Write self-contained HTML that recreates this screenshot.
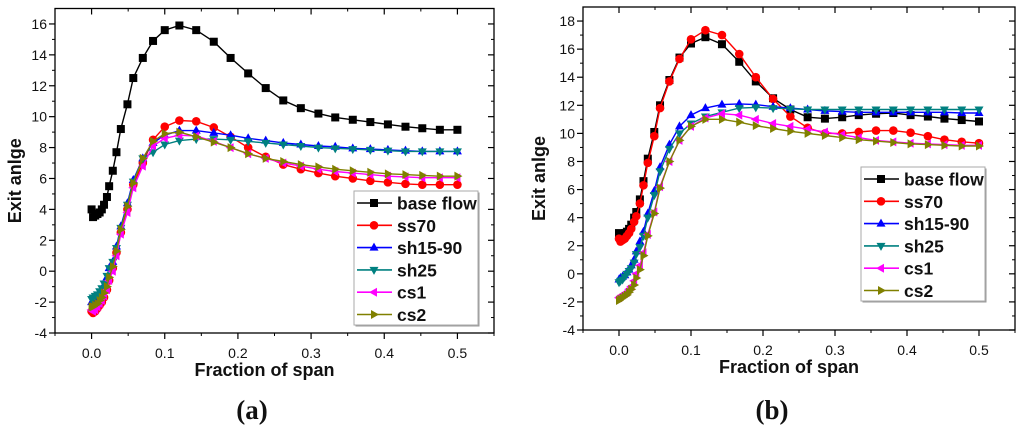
<!DOCTYPE html>
<html><head><meta charset="utf-8">
<style>
html,body{margin:0;padding:0;background:#fff;width:1024px;height:429px;overflow:hidden}
svg{display:block}
text{font-family:"Liberation Sans",sans-serif;fill:#111}
</style></head>
<body>
<svg id="fig" width="1024" height="429" viewBox="0 0 1024 429"></svg>
<script>
const xSpan = [0,0.002,0.005,0.008,0.011,0.014,0.017,0.021,0.024,0.029,0.034,0.040,0.049,0.057,0.070,0.084,0.100,0.120,0.143,0.167,0.190,0.214,0.238,0.262,0.286,0.310,0.333,0.357,0.381,0.405,0.429,0.452,0.476,0.500];
const seriesNames = ["base flow","ss70","sh15-90","sh25","cs1","cs2"];
const aBase = [4.0,3.5,3.6,3.7,3.8,4.0,4.3,4.8,5.5,6.5,7.7,9.2,10.8,12.5,13.8,14.9,15.6,15.9,15.6,14.85,13.8,12.8,11.85,11.05,10.55,10.2,9.95,9.8,9.65,9.5,9.35,9.25,9.15,9.15];
const aSs70 = [-2.6,-2.7,-2.6,-2.4,-2.2,-2.0,-1.7,-1.2,-0.6,0.2,1.2,2.5,4.0,5.6,7.0,8.5,9.35,9.75,9.7,9.3,8.7,8.0,7.4,6.9,6.6,6.35,6.15,6.0,5.85,5.75,5.65,5.6,5.6,5.6];
const aSh1590 = [-2.0,-1.9,-1.8,-1.6,-1.4,-1.2,-0.9,-0.4,0.2,0.6,1.6,2.9,4.4,5.9,7.3,8.3,8.8,9.1,9.1,8.95,8.8,8.6,8.45,8.3,8.2,8.1,8.05,7.95,7.9,7.85,7.8,7.75,7.75,7.75];
const aSh25 = [-1.8,-1.7,-1.6,-1.5,-1.3,-1.1,-0.8,-0.3,0.2,0.6,1.5,2.8,4.3,5.8,7.3,7.7,8.2,8.45,8.55,8.55,8.5,8.4,8.3,8.2,8.1,8.0,7.95,7.9,7.85,7.8,7.75,7.75,7.75,7.75];
const aCs1 = [-2.5,-2.6,-2.5,-2.3,-2.1,-1.9,-1.6,-1.2,-0.6,0.0,1.0,2.4,3.8,5.4,6.8,8.1,8.6,8.8,8.75,8.4,8.0,7.6,7.3,7.0,6.8,6.6,6.45,6.35,6.25,6.15,6.1,6.05,6.05,6.05];
const aCs2 = [-2.3,-2.3,-2.2,-2.1,-1.9,-1.7,-1.4,-1.0,-0.4,0.3,1.3,2.7,4.2,5.7,7.3,8.4,8.9,9.0,8.7,8.35,8.0,7.6,7.3,7.1,6.9,6.75,6.6,6.5,6.4,6.3,6.25,6.2,6.15,6.15];
const bBase = [2.9,2.8,2.8,2.9,3.0,3.2,3.5,4.0,4.4,5.3,6.6,8.2,10.1,12.0,13.8,15.4,16.4,16.85,16.35,15.1,13.7,12.5,11.7,11.15,11.05,11.15,11.3,11.4,11.45,11.3,11.2,11.05,10.95,10.85];
const bSs70 = [2.5,2.3,2.4,2.5,2.7,2.9,3.2,3.7,4.1,5.0,6.3,7.9,9.8,11.8,13.7,15.3,16.7,17.35,17.0,15.65,14.0,12.45,11.2,10.4,10.0,10.0,10.1,10.2,10.2,10.05,9.8,9.55,9.4,9.3];
const bSh1590 = [-0.4,-0.3,-0.2,-0.1,0.1,0.3,0.6,1.0,1.6,2.3,3.0,4.3,5.9,7.6,9.2,10.5,11.3,11.8,12.05,12.1,12.05,11.9,11.8,11.7,11.6,11.55,11.5,11.5,11.5,11.5,11.5,11.5,11.45,11.45];
const bSh25 = [-0.6,-0.5,-0.4,-0.2,0.0,0.2,0.4,0.8,1.4,1.9,2.7,4.0,5.6,7.3,8.9,10.0,10.7,11.2,11.5,11.8,11.85,11.8,11.75,11.7,11.7,11.7,11.7,11.7,11.7,11.7,11.7,11.7,11.7,11.7];
const bCs1 = [-1.7,-1.6,-1.5,-1.4,-1.3,-1.1,-0.9,-0.5,0.0,0.6,1.5,2.8,4.4,6.2,8.0,9.5,10.5,11.1,11.4,11.3,11.0,10.7,10.5,10.3,10.1,9.9,9.7,9.5,9.4,9.3,9.25,9.2,9.15,9.15];
const bCs2 = [-1.9,-1.8,-1.7,-1.6,-1.5,-1.3,-1.1,-0.8,-0.3,0.3,1.3,2.7,4.3,6.1,8.0,9.5,10.5,11.0,11.0,10.8,10.55,10.35,10.15,10.0,9.85,9.7,9.55,9.45,9.35,9.25,9.2,9.15,9.1,9.1];
const xTicks = [0.0,0.1,0.2,0.3,0.4,0.5];
const xTickLabels = ["0.0","0.1","0.2","0.3","0.4","0.5"];
const aYTicks = [-4,-2,0,2,4,6,8,10,12,14,16];
const bYTicks = [-4,-2,0,2,4,6,8,10,12,14,16,18];

const colors = ["#000000","#ff0000","#0000ff","#008080","#ff00ff","#808000"];
const markers = ["square","circle","up","down","left","right"];
const NS = "http://www.w3.org/2000/svg";
const fig = document.getElementById("fig");
function mk(tag, attrs, parent){
  const e = document.createElementNS(NS, tag);
  for (const k in attrs) e.setAttribute(k, attrs[k]);
  (parent||fig).appendChild(e);
  return e;
}
function marker(kind, cx, cy, col, g){
  const s = 4;
  let e;
  if (kind==="square") e = mk("rect",{x:cx-s,y:cy-s,width:2*s,height:2*s,fill:col},g);
  else if (kind==="circle") e = mk("circle",{cx:cx,cy:cy,r:s+0.3,fill:col},g);
  else {
    let p;
    if (kind==="up") p=[[cx,cy-s-1],[cx-s-0.5,cy+s-1],[cx+s+0.5,cy+s-1]];
    else if (kind==="down") p=[[cx,cy+s+1],[cx-s-0.5,cy-s+1],[cx+s+0.5,cy-s+1]];
    else if (kind==="left") p=[[cx-s-1,cy],[cx+s-1,cy-s-0.5],[cx+s-1,cy+s+0.5]];
    else p=[[cx+s+1,cy],[cx-s+1,cy-s-0.5],[cx-s+1,cy+s+0.5]];
    e = mk("polygon",{points:p.map(q=>q.join(",")).join(" "),fill:col},g);
  }
  return e;
}
function drawChart(cfg){
  const L=cfg.left,R=cfg.right,T=cfg.top,B=cfg.bottom;
  const sx = v => L + (v - cfg.xmin)/(cfg.xmax-cfg.xmin)*(R-L);
  const sy = v => B - (v - cfg.ymin)/(cfg.ymax-cfg.ymin)*(B-T);
  const g = mk("g",{});
  
  
  for (let i=0;i<cfg.yTicks.length;i++){
    const v=cfg.yTicks[i], y=sy(v);
    mk("line",{x1:L-6,y1:y,x2:L,y2:y,stroke:"#000","stroke-width":1.2},g);
    mk("line",{x1:R-6,y1:y,x2:R,y2:y,stroke:"#000","stroke-width":1.2},g);
    const ym=sy(v+1);
    if (v+1<cfg.ymax){
      mk("line",{x1:L-3,y1:ym,x2:L,y2:ym,stroke:"#000","stroke-width":1},g);
      mk("line",{x1:R-3,y1:ym,x2:R,y2:ym,stroke:"#000","stroke-width":1},g);
    }
    const t=mk("text",{x:L-8,y:y+5,"text-anchor":"end","font-size":"14"},g);
    t.textContent=String(v);
    
    
  }
  for (let i=0;i<cfg.xTicks.length;i++){
    const v=cfg.xTicks[i], x=sx(v);
    mk("line",{x1:x,y1:B,x2:x,y2:B+6,stroke:"#000","stroke-width":1.2},g);
    mk("line",{x1:x,y1:T,x2:x,y2:T+6,stroke:"#000","stroke-width":1.2},g);
    const t=mk("text",{x:x,y:B+25,"text-anchor":"middle","font-size":"14"},g);
    t.textContent=xTickLabels[i];
    
    
  }
  for (let v=-0.05; v<0.56; v+=0.1){
    const x=sx(v);
    mk("line",{x1:x,y1:B,x2:x,y2:B+3,stroke:"#000","stroke-width":1},g);
    mk("line",{x1:x,y1:T,x2:x,y2:T+3,stroke:"#000","stroke-width":1},g);
  }
  const frame = mk("rect",{x:L,y:T,width:R-L,height:B-T,fill:"none",stroke:"#000","stroke-width":1.3},g);
  
  
  for (let s=0;s<cfg.series.length;s++){
    const ys=cfg.series[s];
    const sg=mk("g",{},g);
    
    
    const pts=xSpan.map((x,i)=>sx(x).toFixed(1)+","+sy(ys[i]).toFixed(1)).join(" ");
    mk("polyline",{points:pts,fill:"none",stroke:colors[s],"stroke-width":1.4},sg);
    for (let i=0;i<xSpan.length;i++){
      const m=marker(markers[s],sx(xSpan[i]),sy(ys[i]),colors[s],sg);
      
      
    }
  }
  const lg=mk("g",{},g);
  
  
  const lx=cfg.legend[0], ly=cfg.legend[1], lw=124, lh=134;
  mk("rect",{x:lx+1.5,y:ly+1.5,width:lw,height:lh,fill:"#999"},lg);
  mk("rect",{x:lx,y:ly,width:lw,height:lh,fill:"#fff",stroke:"#aaa","stroke-width":1},lg);
  for (let s=0;s<seriesNames.length;s++){
    const yy=ly+12+s*22.3;
    const eg=mk("g",{},lg);
    
    
    mk("line",{x1:lx+3,y1:yy,x2:lx+38,y2:yy,stroke:colors[s],"stroke-width":1.6},eg);
    marker(markers[s],lx+20,yy,colors[s],eg);
    const t=mk("text",{x:lx+43,y:yy+6.5,"font-size":"17.5","font-weight":"bold"},eg);
    t.textContent=seriesNames[s];
  }
  const xt=mk("text",{x:(L+R)/2-10,y:B+43,"text-anchor":"middle","font-size":"18","font-weight":"bold"},g);
  xt.textContent="Fraction of span";
  
  
  const yt=mk("text",{x:0,y:0,"text-anchor":"middle","font-size":"18","font-weight":"bold",transform:"translate("+cfg.ytx+","+((T+B)/2+10)+") rotate(-90)"},g);
  yt.textContent="Exit anlge";
  
  
  const pl=mk("text",{x:cfg.panelX,y:419,"text-anchor":"middle","font-size":"27","font-weight":"bold",style:"font-family:'Liberation Serif',serif"},g);
  pl.textContent=cfg.panel;
  
  
}
drawChart({name:"chart-a",left:55,right:494,top:8.5,bottom:333,xmin:-0.05,xmax:0.55,ymin:-4,ymax:17,
  yTicks:aYTicks,xTicks:xTicks,series:[aBase,aSs70,aSh1590,aSh25,aCs1,aCs2],legend:[354,191],ytx:21,panelX:252,panel:"(a)"});
drawChart({name:"chart-b",left:583,right:1015,top:7,bottom:330,xmin:-0.05,xmax:0.55,ymin:-4,ymax:19,
  yTicks:bYTicks,xTicks:xTicks,series:[bBase,bSs70,bSh1590,bSh25,bCs1,bCs2],legend:[861,167],ytx:545,panelX:772,panel:"(b)"});
</script>
</body></html>
